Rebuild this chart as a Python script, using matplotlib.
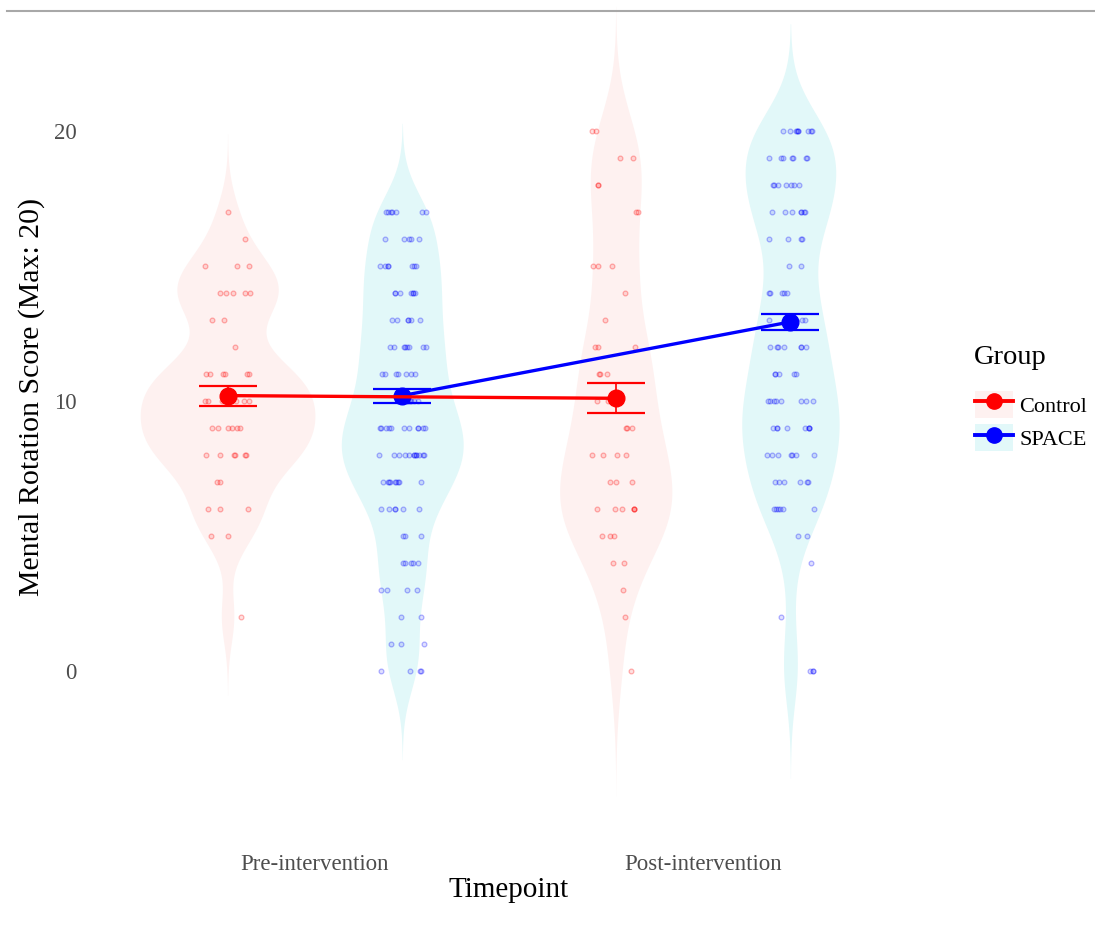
import numpy as np
import matplotlib
matplotlib.use("Agg")
import matplotlib.pyplot as plt
from matplotlib.colors import to_rgba
from matplotlib.lines import Line2D
from matplotlib.patches import Patch

plt.rcParams["font.family"] = ["Liberation Serif", "DejaVu Serif"]

timepoints = ["Pre-intervention", "Post-intervention"]
groups = ["Control", "SPACE"]

# score levels and how many participants sit on each level
pre_control_scores = [17, 16, 15, 14, 13, 12, 11, 10, 9, 8, 7, 6, 5, 2]
pre_control_counts = [1, 1, 3, 5, 2, 1, 6, 6, 6, 6, 2, 3, 2, 1]
pre_space_scores = [17, 16, 15, 14, 13, 12, 11, 10, 9, 8, 7, 6, 5, 4, 3, 2, 1, 0]
pre_space_counts = [7, 5, 7, 7, 6, 8, 7, 8, 11, 12, 9, 6, 3, 5, 4, 2, 3, 4]
post_control_scores = [20, 19, 18, 17, 15, 14, 13, 12, 11, 10, 9, 8, 7, 6, 5, 4, 3, 2, 0]
post_control_counts = [2, 2, 2, 2, 3, 1, 1, 3, 3, 2, 3, 4, 3, 6, 3, 2, 1, 1, 1]
post_space_scores = [20, 19, 18, 17, 16, 15, 14, 13, 12, 11, 10, 9, 8, 7, 6, 5, 4, 2, 0]
post_space_counts = [9, 7, 7, 7, 4, 2, 5, 4, 7, 5, 8, 8, 7, 6, 6, 2, 1, 1, 3]

# group means and error bars
control_means = [10.2, 10.1]
control_err = [0.37, 0.55]
space_means = [10.2, 12.93]
space_err = [0.26, 0.3]

line_colors = {"Control": "#FF0000", "SPACE": "#0000FF"}
fill_colors = {"Control": "#FEF1F0", "SPACE": "#E2F8F9"}


def expand(scores, counts):
    return np.repeat(np.array(scores, float), counts)


samples = {
    ("Control", 0): expand(pre_control_scores, pre_control_counts),
    ("SPACE", 0): expand(pre_space_scores, pre_space_counts),
    ("Control", 1): expand(post_control_scores, post_control_counts),
    ("SPACE", 1): expand(post_space_scores, post_space_counts),
}


def kde(vals, adjust=0.7):
    # gaussian kernel, bw.nrd0 * adjust, grid extended by 3 bandwidths like ggplot
    sd = vals.std(ddof=1)
    iqr = np.subtract(*np.percentile(vals, [75, 25]))
    bw = adjust * 0.9 * min(sd, iqr / 1.34) * len(vals) ** -0.2
    grid = np.linspace(vals.min() - 3 * bw, vals.max() + 3 * bw, 512)
    z = (grid[:, None] - vals[None, :]) / bw
    dens = np.exp(-0.5 * z ** 2).sum(axis=1) / (len(vals) * bw * np.sqrt(2 * np.pi))
    return grid, dens


dodge = 0.225
offset = {"Control": -dodge, "SPACE": dodge}
dens_all = {k: kde(v) for k, v in samples.items()}
dmax = max(d.max() for _, d in dens_all.values())

fig = plt.figure(figsize=(10.95, 9.27), dpi=100)
# panel runs a little past the top edge (the source image is cropped there)
ax = fig.add_axes([82 / 1095, 79 / 927, 854 / 1095, 903 / 927])

for (g, t), (grid, dens) in dens_all.items():
    xc = t + 1 + offset[g]
    half = dens / dmax * dodge
    ax.fill_betweenx(grid, xc - half, xc + half, color=fill_colors[g], lw=0, zorder=1)

# jittered raw scores
for (g, t), vals in samples.items():
    xc = t + 1 + offset[g]
    for r, lvl in enumerate(np.unique(vals)):
        k = int((vals == lvl).sum())
        i = np.arange(k)
        frac = (np.sin(i * 12.9898 + r * 78.233 + t * 3.1 + len(g)) * 43758.5453) % 1.0
        xs = xc + 0.062 * (2 * frac - 1)
        ax.plot(xs, np.full(k, lvl), "o", ms=3.4, mfc=to_rgba(line_colors[g], 0.12),
                mec=to_rgba(line_colors[g], 0.3), mew=0.9, ls="none", zorder=2)

x_t = np.arange(1, 3)
for g, means, err, z in [("SPACE", space_means, space_err, 4), ("Control", control_means, control_err, 5)]:
    xs = x_t + offset[g]
    ax.errorbar(xs, means, yerr=err, fmt="none", ecolor=line_colors[g], elinewidth=1.2,
                capsize=21, capthick=1.6, zorder=z)
    ax.plot(xs, means, "-o", color=line_colors[g], lw=2.4, ms=12, zorder=z)

ax.set_xlim(0.4, 2.6)
ax.set_ylim((671 - 848) / 27, (671 + 55) / 27)
ax.set_xticks(x_t)
ax.set_xticklabels(timepoints)
ax.set_yticks([0, 10, 20])
ax.tick_params(length=0, labelsize=16.5, labelcolor="#4D4D4D", pad=4)
for s in ax.spines.values():
    s.set_visible(False)
ax.set_xlabel("Timepoint", fontsize=21, labelpad=2)
ax.set_ylabel("Mental Rotation Score (Max: 20)", fontsize=21.5, labelpad=6)

# legend: title as plain text, keys below it
fig.text(974 / 1095, 1 - 358 / 927, "Group", fontsize=20.5, va="center", ha="left")
handles = [(Patch(facecolor=fill_colors[g], edgecolor="none"),
            Line2D([], [], color=line_colors[g], lw=2.8, marker="o", ms=11)) for g in groups]
fig.legend(handles, groups, loc="center left", bbox_to_anchor=(964 / 1095, 1 - 421 / 927),
           frameon=False, fontsize=16, handlelength=1.7, handleheight=1.5,
           labelspacing=0.28, borderpad=0, handletextpad=0.3)

fig.add_artist(Line2D([7 / 1095, 1], [1 - 11 / 927] * 2, color="#A8A8A8", lw=1.5, transform=fig.transFigure))

fig.savefig("out.png", dpi=100)
